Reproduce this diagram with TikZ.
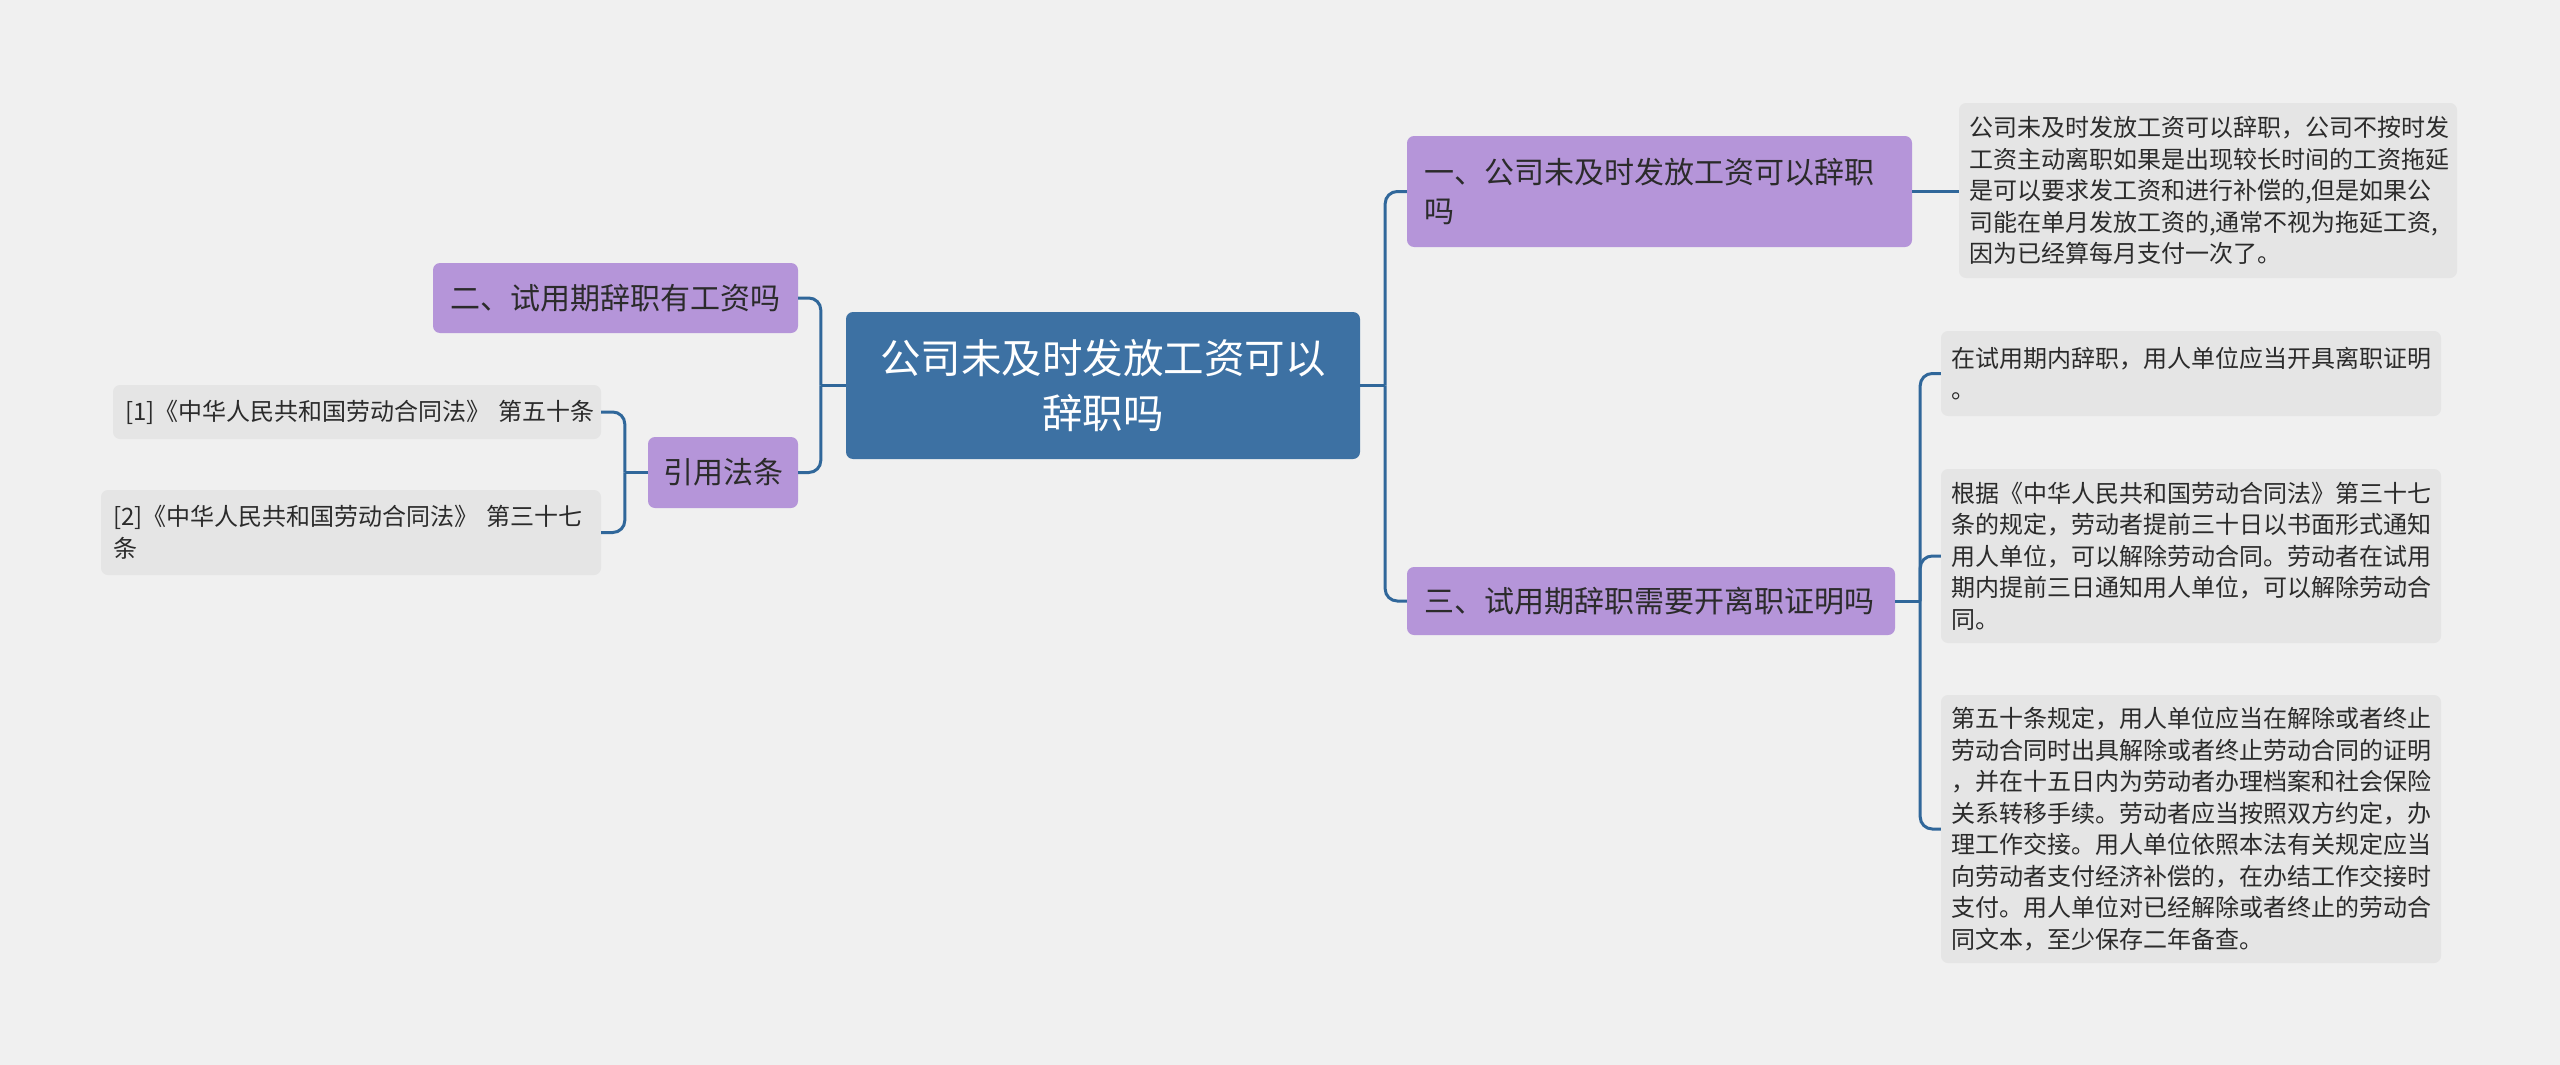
\documentclass[tikz,border=0pt]{standalone}
\usepackage{fontspec}
\setmainfont{Noto Sans CJK SC}
\usepackage{xcolor}

\begin{document}
\begin{tikzpicture}[x=1pt,y=-1pt,
  topic/.style={fill=rootblue,text=white,rounded corners=7pt,align=center,
    font=\fontsize{40.5}{55}\selectfont,minimum width=514pt,minimum height=147pt},
  branch/.style={fill=lilac,text=inkdark,rounded corners=7pt,align=left,inner xsep=17pt,
    font=\fontsize{30}{39}\selectfont},
  leaf/.style={fill=leafgray,text=inkdark,rounded corners=7pt,align=left,inner xsep=10pt,
    font=\fontsize{24}{31.5}\selectfont},
  link/.style={draw=linkblue,line width=3pt,rounded corners=12pt}]
\definecolor{paper}{HTML}{F0F0F0}
\definecolor{rootblue}{HTML}{3D71A3}
\definecolor{lilac}{HTML}{B595D9}
\definecolor{leafgray}{HTML}{E5E5E5}
\definecolor{inkdark}{HTML}{2B2B2B}
\definecolor{linkblue}{HTML}{30679A}
\useasboundingbox (0,0) rectangle (2560,1065);
\fill[paper] (0,0) rectangle (2560,1065);
% centre and main branches
\node[topic] (root) at (1103,385.5) {公司未及时发放工资可以\\辞职吗};
\node[branch,text width=471pt,minimum height=111pt] (b1) at (1659.5,191.5) {一、公司未及时发放工资可以辞职\\吗};
\node[branch,text width=454pt,minimum height=68pt] (b3) at (1651,601) {三、试用期辞职需要开离职证明吗};
\node[branch,text width=331pt,minimum height=70pt] (b2) at (615.5,298) {二、试用期辞职有工资吗};
\node[branch,inner xsep=15pt,text width=120pt,minimum height=71pt] (b4) at (723,472.5) {引用法条};
% leaves
\node[leaf,text width=478pt,minimum height=175pt] (n1) at (2208,190.5) {公司未及时发放工资可以辞职，公司不按时发\\工资主动离职如果是出现较长时间的工资拖延\\是可以要求发工资和进行补偿的,但是如果公\\司能在单月发放工资的,通常不视为拖延工资,\\因为已经算每月支付一次了。};
\node[leaf,text width=480pt,minimum height=85pt] (n3a) at (2191,373.5) {在试用期内辞职，用人单位应当开具离职证明\\。};
\node[leaf,text width=480pt,minimum height=174pt] (n3b) at (2191,556) {根据《中华人民共和国劳动合同法》第三十七\\条的规定，劳动者提前三十日以书面形式通知\\用人单位，可以解除劳动合同。劳动者在试用\\期内提前三日通知用人单位，可以解除劳动合\\同。};
\node[leaf,text width=480pt,minimum height=268pt] (n3c) at (2191,829) {第五十条规定，用人单位应当在解除或者终止\\劳动合同时出具解除或者终止劳动合同的证明\\，并在十五日内为劳动者办理档案和社会保险\\关系转移手续。劳动者应当按照双方约定，办\\理工作交接。用人单位依照本法有关规定应当\\向劳动者支付经济补偿的，在办结工作交接时\\支付。用人单位对已经解除或者终止的劳动合\\同文本，至少保存二年备查。};
\node[leaf,inner xsep=12pt,text width=464pt,minimum height=54pt] (law1) at (357,412) {[1]《中华人民共和国劳动合同法》~第五十条};
\node[leaf,inner xsep=12pt,text width=476pt,minimum height=85pt] (law2) at (351,532.5) {[2]《中华人民共和国劳动合同法》~第三十七\\条};
% connectors
\coordinate (rj) at ([xshift=25pt]root.east);
\coordinate (lj) at ([xshift=-25pt]root.west);
\coordinate (tj) at ([xshift=25pt]b3.east);
\coordinate (qj) at ([xshift=-23pt]b4.west);
\draw[link] (root.east) -- (rj);
\draw[link] (root.west) -- (lj);
\draw[link] (b3.east) -- (tj);
\draw[link] (b4.west) -- (qj);
\foreach \kid in {b1,b3} \draw[link] (rj) |- (\kid.west);
\foreach \kid in {b2,b4} \draw[link] (lj) |- (\kid.east);
\foreach \kid in {n3a,n3b,n3c} \draw[link] (tj) |- (\kid.west);
\foreach \kid in {law1,law2} \draw[link] (qj) |- (\kid.east);
\draw[link] (b1.east) -- (b1.east -| n1.west);
\end{tikzpicture}
\end{document}
